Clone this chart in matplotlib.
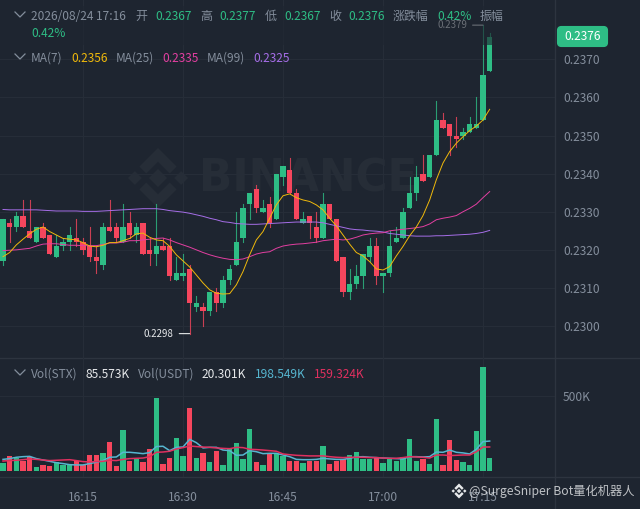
import matplotlib
matplotlib.use('Agg')
import matplotlib.pyplot as plt
from matplotlib.patches import FancyBboxPatch, Polygon, Rectangle

plt.rcParams['font.family'] = ['Noto Sans CJK SC', 'DejaVu Sans']

opens = [.2317, .2327, .2326, .2329, .2325, .2322, .2326, .2324, .2318, .2321,
         .2322, .2323, .2322, .2321, .2318, .2316, .2326, .2326, .2322, .2327,
         .2324, .2327, .2320, .2319, .2321, .2321, .2312, .2313, .2315, .2305,
         .2305, .2304, .2309, .2306, .2312, .2316, .2323, .2332, .2336, .2330,
         .2332, .2328, .2339, .2341, .2335, .2327, .2329, .2326, .2323, .2332,
         .2328, .2318, .2309, .2311, .2313, .2318, .2321, .2313, .2314, .2322,
         .2323, .2331, .2335, .2340, .2339, .2345, .2354, .2353, .2350, .2350,
         .2351, .2352, .2354, .2367]
highs = [.2328, .2328, .2330, .2333, .2333, .2326, .2327, .2324, .2324, .2323,
         .2326, .2328, .2323, .2326, .2321, .2327, .2333, .2327, .2332, .2330,
         .2327, .2327, .2323, .2332, .2323, .2323, .2318, .2319, .2316, .2308,
         .2306, .2309, .2310, .2313, .2316, .2330, .2332, .2335, .2337, .2333,
         .2334, .2340, .2342, .2344, .2336, .2330, .2329, .2330, .2335, .2332,
         .2328, .2318, .2315, .2316, .2319, .2323, .2323, .2314, .2325, .2326,
         .2331, .2339, .2342, .2345, .2345, .2359, .2356, .2353, .2355, .2352,
         .2355, .2360, .2379, .2377]
lows = [.2316, .2322, .2325, .2326, .2323, .2322, .2323, .2319, .2318, .2320,
        .2320, .2321, .2319, .2317, .2314, .2315, .2325, .2322, .2322, .2323,
        .2322, .2319, .2316, .2316, .2320, .2312, .2312, .2312, .2298, .2304,
        .2300, .2303, .2304, .2305, .2311, .2316, .2322, .2328, .2330, .2330,
        .2326, .2328, .2337, .2335, .2328, .2327, .2323, .2322, .2323, .2328,
        .2317, .2308, .2307, .2310, .2310, .2317, .2311, .2309, .2313, .2322,
        .2323, .2331, .2333, .2338, .2339, .2345, .2352, .2345, .2347, .2349,
        .2351, .2352, .2354, .2367]
closes = [.2328, .2326, .2329, .2326, .2323, .2326, .2323, .2319, .2321, .2322,
          .2324, .2322, .2320, .2318, .2317, .2326, .2325, .2323, .2326, .2324,
          .2326, .2319, .2319, .2321, .2320, .2313, .2314, .2314, .2306, .2306,
          .2304, .2309, .2306, .2312, .2315, .2322, .2331, .2335, .2331, .2331,
          .2327, .2340, .2342, .2335, .2328, .2328, .2327, .2323, .2332, .2328,
          .2317, .2309, .2311, .2313, .2319, .2321, .2313, .2314, .2321, .2323,
          .2330, .2335, .2339, .2338, .2345, .2354, .2352, .2350, .2349, .2351,
          .2353, .2353, .2366, .2376]

ma7 = [.23182, .23193, .23213, .23228, .23242, .23254, .23260, .23248, .23239, .23230,
       .23228, .23226, .23219, .23210, .23208, .23212, .23219, .23219, .23224, .23230,
       .23242, .23244, .23233, .23226, .23224, .23209, .23187, .23171, .23155, .23134,
       .23113, .23095, .23086, .23084, .23085, .23108, .23143, .23187, .23226, .23248,
       .23283, .23318, .23342, .23347, .23337, .23331, .23327, .23318, .23305, .23283,
       .23263, .23239, .23215, .23193, .23184, .23169, .23150, .23147, .23156, .23184,
       .23209, .23237, .23260, .23290, .23331, .23384, .23428, .23458, .23480, .23497,
       .23513, .23525, .23541, .23569]
ma25 = [.23198, .23199, .23200, .23202, .23204, .23210, .23215, .23216, .23216, .23214,
        .23212, .23212, .23211, .23211, .23211, .23214, .23218, .23218, .23220, .23224,
        .23224, .23226, .23228, .23230, .23231, .23226, .23219, .23213, .23207, .23200,
        .23193, .23187, .23182, .23178, .23175, .23174, .23176, .23182, .23189, .23193,
        .23195, .23204, .23210, .23213, .23215, .23216, .23218, .23220, .23224, .23226,
        .23228, .23226, .23228, .23233, .23239, .23242, .23244, .23245, .23250, .23252,
        .23254, .23256, .23258, .23261, .23268, .23279, .23283, .23286, .23290, .23300,
        .23309, .23320, .23337, .23353]
ma99 = [.23306, .23305, .23305, .23305, .23305, .23305, .23304, .23303, .23302, .23302,
        .23302, .23302, .23301, .23301, .23301, .23302, .23303, .23304, .23305, .23306,
        .23307, .23308, .23308, .23308, .23306, .23303, .23301, .23299, .23296, .23292,
        .23288, .23283, .23279, .23274, .23272, .23269, .23268, .23267, .23267, .23268,
        .23269, .23270, .23271, .23272, .23273, .23273, .23273, .23273, .23271, .23267,
        .23263, .23259, .23255, .23253, .23252, .23250, .23249, .23247, .23243, .23241,
        .23239, .23237, .23236, .23236, .23236, .23237, .23237, .23238, .23239, .23240,
        .23241, .23243, .23246, .23251]

volumes = [55, 100, 84, 66, 91, 29, 40, 33, 62, 40,
           40, 66, 40, 108, 106, 117, 195, 35, 272, 66,
           77, 62, 144, 487, 46, 89, 221, 100, 418, 86,
           120, 60, 133, 40, 144, 188, 77, 279, 58, 38,
           113, 111, 100, 66, 66, 55, 64, 69, 166, 44,
           66, 82, 106, 126, 82, 77, 91, 51, 80, 66,
           95, 215, 69, 77, 44, 345, 38, 208, 73, 60,
           38, 268, 688, 85.573]
vol_ma_fast = [77, 82, 91, 95, 97, 82, 73, 64, 55, 49,
               42, 40, 40, 49, 58, 69, 91, 93, 124, 124,
               120, 115, 122, 162, 164, 135, 157, 159, 210, 188,
               153, 157, 157, 139, 135, 104, 106, 135, 128, 115,
               117, 117, 106, 95, 77, 75, 75, 77, 84, 80,
               77, 77, 84, 93, 95, 91, 89, 86, 84, 82,
               80, 95, 95, 93, 95, 126, 124, 139, 124, 120,
               113, 144, 195, 198.549]
vol_ma_slow = [66, 69, 71, 75, 80, 77, 73, 69, 71, 73,
               75, 69, 62, 60, 62, 64, 71, 69, 77, 82,
               84, 86, 95, 124, 126, 131, 146, 155, 166, 162,
               159, 157, 153, 150, 148, 157, 155, 144, 142, 139,
               135, 131, 113, 108, 104, 102, 100, 100, 100, 95,
               91, 89, 91, 91, 91, 89, 89, 86, 84, 84,
               89, 95, 93, 91, 86, 106, 106, 102, 104, 106,
               106, 128, 159, 159.324]

price_ticks = [.2300, .2310, .2320, .2330, .2340, .2350, .2360, .2370]
time_labels = ['16:15', '16:30', '16:45', '17:00', '17:15']
time_positions = [12, 27, 42, 57, 72]

BG = '#1e2530'
GRID = '#262d38'
LINE = '#2d343f'
MARK = '#262d37'
GREEN = '#2ebd85'
RED = '#f6465d'
GRAY = '#848e9c'
WHITE = '#e6e8ea'
GOLD = '#f0b90b'
PINK = '#e33fa1'
PURPLE = '#a66ee8'
CYAN = '#56b6d0'
CRIMSON = '#e0305f'
WIDTH, HEIGHT = 640, 509
CHART_RIGHT = 555


def rect(left, top, right, bottom):
    return [left / WIDTH, 1 - bottom / HEIGHT,
            (right - left) / WIDTH, (bottom - top) / HEIGHT]


def draw_logo(ax, cx, cy, r, color, zorder=1):
    """Binance diamond: one centre square and four chevrons"""
    s = r * 0.30
    ax.add_patch(Polygon([(cx - s, cy), (cx, cy - s), (cx + s, cy), (cx, cy + s)],
                         color=color, lw=0, zorder=zorder))
    for dx in (-1, 1):
        ax.add_patch(Polygon([(cx + dx * r, cy), (cx + dx * r * .77, cy - r * .23),
                              (cx + dx * r * .54, cy), (cx + dx * r * .77, cy + r * .23)],
                             color=color, lw=0, zorder=zorder))
    for sign in (-1, 1):
        ax.add_patch(Polygon([(cx, cy + sign * r), (cx - r * .62, cy + sign * r * .38),
                              (cx - r * .39, cy + sign * r * .15), (cx, cy + sign * r * .54),
                              (cx + r * .39, cy + sign * r * .15), (cx + r * .62, cy + sign * r * .38)],
                             color=color, lw=0, zorder=zorder))


def chevron(ax, x, y):
    ax.plot([x - 5, x, x + 5], [y - 3, y + 2, y - 3], color=GRAY, lw=0.9)


def label(ax, x, y, text, color=GRAY, size=8.6):
    ax.text(x, y, text, color=color, fontsize=size, ha='left', va='center')


def draw_candles(ax):
    for i in range(len(closes)):
        color = GREEN if closes[i] >= opens[i] else RED
        ax.plot([i, i], [lows[i], highs[i]], color=color, lw=0.8, alpha=0.8, zorder=2)
        ax.bar(i, abs(closes[i] - opens[i]), 0.78, min(opens[i], closes[i]),
               color=color, lw=0, zorder=3)
    xs = range(len(closes))
    ax.plot(xs, ma99, color=PURPLE, lw=0.7, zorder=4)
    ax.plot(xs, ma25, color=PINK, lw=0.7, zorder=4)
    ax.plot(xs, ma7, color=GOLD, lw=0.7, zorder=4)

    low_i = lows.index(min(lows))
    ax.annotate(f'{lows[low_i]:.4f}', xy=(low_i, lows[low_i]), xytext=(-11.5, 0),
                textcoords='offset points', color=WHITE, fontsize=7, ha='right',
                va='center', arrowprops=dict(arrowstyle='-', color=WHITE, lw=0.8,
                                             shrinkA=2, shrinkB=0))
    high_i = highs.index(max(highs))
    ax.annotate(f'{highs[high_i]:.4f}', xy=(high_i, highs[high_i]), xytext=(-11.5, 0),
                textcoords='offset points', color=WHITE, fontsize=7, ha='right',
                va='center', arrowprops=dict(arrowstyle='-', color=WHITE, lw=0.8,
                                             shrinkA=2, shrinkB=0))


def draw_volume(ax):
    xs = range(len(volumes))
    colors = [GREEN if c >= o else RED for o, c in zip(opens, closes)]
    ax.bar(xs, volumes, 0.78, color=colors, lw=0, zorder=2)
    ax.plot(xs, vol_ma_fast, color=CYAN, lw=1.1, zorder=3)
    ax.plot(xs, vol_ma_slow, color=CRIMSON, lw=1.1, zorder=3)


def style_axis(ax):
    ax.set_facecolor('none')
    for spine in ax.spines.values():
        spine.set_visible(False)
    ax.yaxis.tick_right()
    ax.grid(True, color=GRID, lw=0.8)
    ax.set_axisbelow(True)
    ax.tick_params(length=0, labelsize=8.6, labelcolor=GRAY)
    ax.tick_params(axis='y', pad=5.8)
    ax.tick_params(axis='x', pad=9.8)


def main():
    fig = plt.figure(figsize=(WIDTH / 100, HEIGHT / 100), dpi=100, facecolor=BG)

    ax_bg = fig.add_axes([0, 0, 1, 1], zorder=0)
    ax_bg.set_xlim(0, WIDTH)
    ax_bg.set_ylim(HEIGHT, 0)
    ax_bg.axis('off')
    draw_logo(ax_bg, 158, 178, 30, MARK)
    ax_bg.text(199, 179, 'BINANCE', color=MARK, fontsize=31.5, fontweight='bold',
               family=['DejaVu Sans'], ha='left', va='center')
    ax_bg.plot([CHART_RIGHT, CHART_RIGHT], [0, HEIGHT], color=LINE, lw=1)
    ax_bg.plot([0, WIDTH], [358, 358], color=LINE, lw=1)
    ax_bg.plot([0, WIDTH], [477, 477], color=LINE, lw=1)

    ax_price = fig.add_axes(rect(0, 0, CHART_RIGHT, 358), zorder=1)
    ax_price.set_xlim(-0.45, 82.8)
    ax_price.set_ylim(.22916, .23856)
    style_axis(ax_price)
    ax_price.set_yticks(price_ticks)
    ax_price.set_yticklabels([f'{p:.4f}' for p in price_ticks])
    ax_price.set_xticks(time_positions)
    ax_price.tick_params(axis='x', labelbottom=False)
    draw_candles(ax_price)

    ax_vol = fig.add_axes(rect(0, 358, CHART_RIGHT, 477), zorder=1)
    ax_vol.set_xlim(-0.45, 82.8)
    ax_vol.set_ylim(-40, 750)
    style_axis(ax_vol)
    ax_vol.set_yticks([500])
    ax_vol.set_yticklabels(['500K'])
    ax_vol.set_xticks(time_positions)
    ax_vol.set_xticklabels(time_labels)
    draw_volume(ax_vol)

    ax_top = fig.add_axes([0, 0, 1, 1], zorder=3)
    ax_top.set_xlim(0, WIDTH)
    ax_top.set_ylim(HEIGHT, 0)
    ax_top.axis('off')

    ax_top.add_patch(Rectangle((0, 6), 505, 39, color=BG, alpha=0.62, lw=0))

    chevron(ax_top, 20, 15)
    label(ax_top, 31, 16, '2026/08/24 17:16')
    for x, text, color in [(135, '开', GRAY), (155, '0.2367', GREEN), (200, '高', GRAY),
                           (219, '0.2377', GREEN), (265, '低', GRAY), (284, '0.2367', GREEN),
                           (329, '收', GRAY), (348, '0.2376', GREEN), (393, '涨跌幅', GRAY),
                           (437, '0.42%', GREEN), (480, '振幅', GRAY)]:
        label(ax_top, x, 16, text, color)
    label(ax_top, 31, 33, '0.42%', GREEN)

    chevron(ax_top, 20, 57)
    for x, text, color in [(31, 'MA(7)', GRAY), (71, '0.2356', GOLD), (116, 'MA(25)', GRAY),
                           (162, '0.2335', PINK), (207, 'MA(99)', GRAY), (253, '0.2325', PURPLE)]:
        label(ax_top, x, 58, text, color)

    chevron(ax_top, 20, 373)
    for x, text, color in [(31, 'Vol(STX)', GRAY), (86, '85.573K', WHITE), (138, 'Vol(USDT)', GRAY),
                           (202, '20.301K', WHITE), (255, '198.549K', CYAN), (314, '159.324K', CRIMSON)]:
        label(ax_top, x, 374, text, color)

    ax_top.add_patch(FancyBboxPatch((557.5, 26.5), 50, 20, boxstyle='round,pad=0,rounding_size=4',
                                    mutation_aspect=1, fc=GREEN, ec=GREEN, lw=0.8))
    ax_top.text(582.5, 36.5, f'{closes[-1]:.4f}', color='white', fontsize=8.6,
                ha='center', va='center')

    draw_logo(ax_top, 459, 491, 7.5, WHITE, zorder=5)
    ax_top.text(469, 491, '@SurgeSniper Bot量化机器人', color=WHITE, fontsize=8.8, alpha=0.8,
                ha='left', va='center', zorder=5)

    fig.savefig('out.png', dpi=100, facecolor=BG)


if __name__ == "__main__":
    main()
